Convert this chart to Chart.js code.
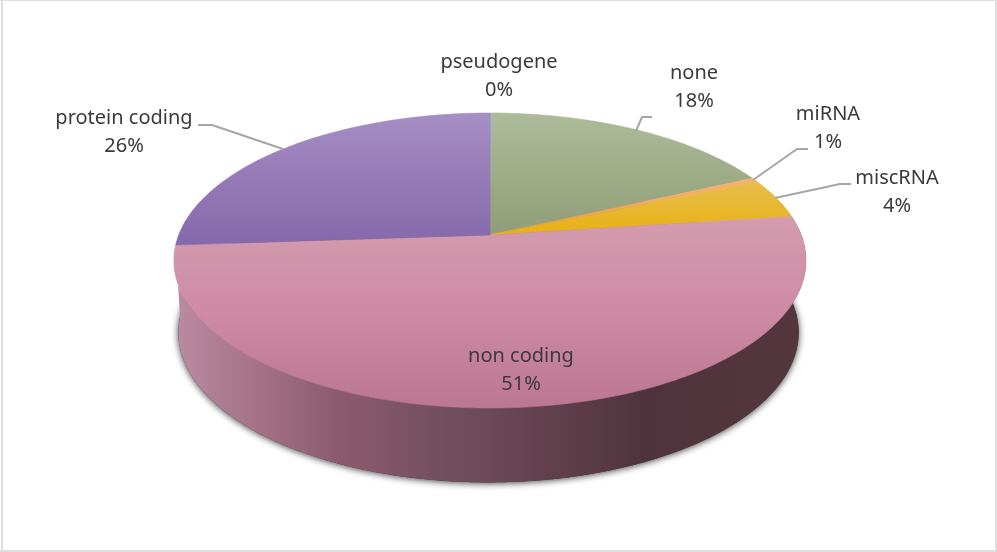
<!DOCTYPE html>
<html>
<head>
<meta charset="utf-8">
<style>
html,body{margin:0;padding:0;background:#fff;overflow:hidden}
#wrap{position:relative;width:997px;height:552px}
</style>
<script src="https://cdn.jsdelivr.net/npm/chart.js@4/dist/chart.umd.min.js"></script>
</head>
<body>
<div id="wrap"><canvas id="c" width="997" height="552"></canvas></div>
<script>
const categories = ['pseudogene','none','miRNA','miscRNA','non coding','protein coding'];
const seriesValues = [0.1,17.9,0.5,4.4,51,26.1];
const sliceTopColors = ['#8fb4c8','#aebb9a','#f6b26b','#e6bd4e','#d39cae','#a68fc4'];
const sliceMidColors = ['#87a8bc','#9eac88','#f2a860','#e7b72f','#ce8ba4','#9679b7'];
const sliceBottomColors = ['#7f9db0','#8f9e78','#ee9f55','#e8b110','#bb7691','#8568aa'];
const labelCenters = [[499,62],[694,73],[828,114],[897,178],[521,356],[124,118]];
const leaderPaths = [null,[[652,117],[642,117],[636,131]],[[808,149],[797,149],[753,180]],[[851,184],[840,184],[775,198]],null,[[198,125],[212,125],[283,149]]];
const FRONT_SLICE = 4;

// perspective projection of the unit disc, top face and bottom face
const persp = -0.1729;
const topFace = {cx:490, y0:235, bx:311.3, ay:143.1};
const baseFace = {cx:488.5, y0:306.5, bx:305.5, ay:145.5};
function project(f, a){
  const x = Math.cos(a), y = Math.sin(a), d = 1 + persp*y;
  return [f.cx + f.bx*x/d, f.y0 + f.ay*y/d];
}
function angleList(s, e){
  const n = Math.max(2, Math.ceil((e-s)/0.01)), r = [];
  for(let i=0;i<=n;i++) r.push(s+(e-s)*i/n);
  return r;
}

const pie3d = {
  id:'pie3d',
  beforeDatasetsDraw(chart){
    const ctx = chart.ctx, arcs = chart.getDatasetMeta(0).data;
    // soft shadow cast by the bottom face; the rim hides its upper part
    ctx.save();
    ctx.shadowColor='rgba(0,0,0,0.75)'; ctx.shadowBlur=7; ctx.shadowOffsetY=1;
    ctx.fillStyle='#4f333c'; ctx.beginPath();
    angleList(0,Math.PI*2).forEach((a,i)=>{const p=project(baseFace,a); i?ctx.lineTo(p[0],p[1]):ctx.moveTo(p[0],p[1]);});
    ctx.closePath(); ctx.fill();
    ctx.restore();
    // side wall of the front slice
    const fr = arcs[FRONT_SLICE], as = angleList(fr.startAngle, fr.endAngle);
    const g = ctx.createLinearGradient(178,0,803,0);
    [[0,'#b98aa0'],[0.12,'#a67388'],[0.25,'#8d5b6e'],[0.42,'#73505e'],[0.55,'#664451'],[0.75,'#4f333c'],[1,'#54373e']]
      .forEach(s=>g.addColorStop(s[0],s[1]));
    ctx.fillStyle=g; ctx.beginPath();
    for(let i=0;i<as.length-1;i++){
      const p=[project(topFace,as[i]),project(topFace,as[i+1]),project(baseFace,as[i+1]),project(baseFace,as[i])];
      ctx.moveTo(p[0][0],p[0][1]); for(let k=1;k<4;k++) ctx.lineTo(p[k][0],p[k][1]); ctx.closePath();
    }
    ctx.fill('nonzero');
    // top face slices
    arcs.forEach((el,i)=>{
      const pts = angleList(el.startAngle, el.endAngle).map(a=>project(topFace,a));
      let y0=topFace.y0,y1=topFace.y0;
      pts.forEach(p=>{y0=Math.min(y0,p[1]);y1=Math.max(y1,p[1]);});
      const lg=ctx.createLinearGradient(0,y0,0,y1);
      lg.addColorStop(0,sliceTopColors[i]); lg.addColorStop(0.5,sliceMidColors[i]); lg.addColorStop(1,sliceBottomColors[i]);
      ctx.beginPath(); ctx.moveTo(topFace.cx,topFace.y0);
      pts.forEach(p=>ctx.lineTo(p[0],p[1])); ctx.closePath();
      ctx.fillStyle=lg; ctx.strokeStyle=lg; ctx.lineWidth=0.6; ctx.fill(); ctx.stroke();
    });
    return false;
  },
  afterDraw(chart){
    const ctx = chart.ctx;
    ctx.save();
    ctx.strokeStyle='#a6a6a6'; ctx.lineWidth=2; ctx.lineJoin='round';
    leaderPaths.forEach(p=>{
      if(!p) return;
      ctx.beginPath(); p.forEach((q,i)=>i?ctx.lineTo(q[0],q[1]):ctx.moveTo(q[0],q[1])); ctx.stroke();
    });
    ctx.fillStyle='#3a3a3a'; ctx.font='20px "Noto Sans"'; ctx.textAlign='center'; ctx.textBaseline='middle';
    categories.forEach((c,i)=>{
      ctx.fillText(c,labelCenters[i][0],labelCenters[i][1]);
      ctx.fillText(Math.round(seriesValues[i])+'%',labelCenters[i][0],labelCenters[i][1]+28);
    });
    // frame of the picture
    ctx.fillStyle='#dedede';
    ctx.fillRect(0,0,997,1); ctx.fillRect(1,0,2,552); ctx.fillRect(995,0,2,552); ctx.fillRect(0,550,997,2);
    ctx.restore();
  }
};

new Chart(document.getElementById('c'),{
  type:'pie',
  data:{labels:categories,datasets:[{data:seriesValues,backgroundColor:sliceTopColors,borderWidth:0}]},
  options:{responsive:false,animation:false,rotation:0,
    plugins:{legend:{display:false},tooltip:{enabled:false},title:{display:false}}},
  plugins:[pie3d]
});
</script>
</body>
</html>
